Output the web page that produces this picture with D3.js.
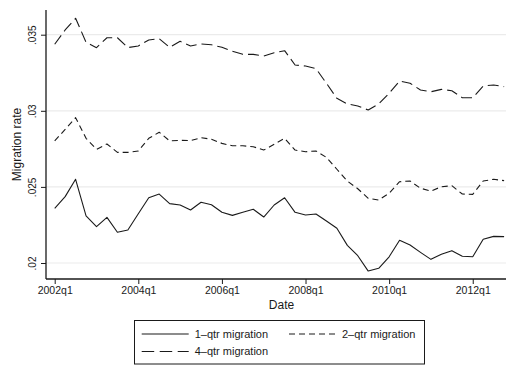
<!DOCTYPE html>
<html>
<head>
<meta charset="utf-8">
<script src="https://cdn.jsdelivr.net/npm/d3@7"></script>
<style>
  html, body { margin: 0; padding: 0; background: #fff; }
  svg { display: block; font-family: "Liberation Sans", Arial, Helvetica, sans-serif; }
</style>
</head>
<body>
<svg id="chart" width="506" height="367"></svg>
<script>
// Quarterly periods, 2002q1 .. 2012q4
const quarters = [
  "2002q1","2002q2","2002q3","2002q4","2003q1","2003q2","2003q3","2003q4",
  "2004q1","2004q2","2004q3","2004q4","2005q1","2005q2","2005q3","2005q4",
  "2006q1","2006q2","2006q3","2006q4","2007q1","2007q2","2007q3","2007q4",
  "2008q1","2008q2","2008q3","2008q4","2009q1","2009q2","2009q3","2009q4",
  "2010q1","2010q2","2010q3","2010q4","2011q1","2011q2","2011q3","2011q4",
  "2012q1","2012q2","2012q3","2012q4"
];

// Migration rates by horizon
const migration1q = [
  0.02359,0.02436,0.02550,0.02309,0.02239,0.02300,0.02202,0.02217,
  0.02324,0.02429,0.02453,0.02390,0.02381,0.02348,0.02399,0.02383,
  0.02333,0.02313,0.02333,0.02353,0.02302,0.02381,0.02429,0.02333,
  0.02315,0.02322,0.02276,0.02228,0.02116,0.02048,0.01947,0.01965,
  0.02041,0.02149,0.02118,0.02070,0.02024,0.02057,0.02081,0.02044,
  0.02041,0.02156,0.02175,0.02173
];
const migration2q = [
  0.02802,0.02878,0.02955,0.02819,0.02747,0.02782,0.02727,0.02727,
  0.02736,0.02819,0.02859,0.02802,0.02806,0.02804,0.02823,0.02813,
  0.02786,0.02770,0.02770,0.02764,0.02742,0.02780,0.02819,0.02742,
  0.02731,0.02736,0.02694,0.02616,0.02538,0.02488,0.02425,0.02414,
  0.02458,0.02534,0.02539,0.02491,0.02473,0.02501,0.02508,0.02453,
  0.02451,0.02539,0.02550,0.02541
];
const migration4q = [
  0.03437,0.03531,0.03608,0.03450,0.03415,0.03480,0.03480,0.03415,
  0.03426,0.03465,0.03474,0.03417,0.03457,0.03426,0.03439,0.03434,
  0.03417,0.03391,0.03371,0.03371,0.03360,0.03382,0.03395,0.03301,
  0.03294,0.03277,0.03181,0.03082,0.03045,0.03032,0.03005,0.03045,
  0.03115,0.03196,0.03181,0.03137,0.03125,0.03141,0.03132,0.03086,
  0.03086,0.03163,0.03170,0.03159
];

const seriesNames = ["1\u2013qtr migration", "2\u2013qtr migration", "4\u2013qtr migration"];
const yTicks = [0.02, 0.025, 0.03, 0.035];
const yTickLabels = [".02", ".025", ".03", ".035"];
const xTickLabels = ["2002q1", "2004q1", "2006q1", "2008q1", "2010q1", "2012q1"];

const svg = d3.select("#chart");
const ink = "#1a1a1a";

// plot region
const plot = { left: 46, right: 506, top: 10, bottom: 279 };

const x = d3.scaleLinear().domain([0, quarters.length - 1]).range([54.7, 504.1]);
const y = d3.scaleLinear().domain([0.02, 0.035]).range([263, 34.7]);

// horizontal grid
svg.append("g").selectAll("line").data(yTicks).join("line")
  .attr("x1", plot.left).attr("x2", plot.right)
  .attr("y1", d => y(d)).attr("y2", d => y(d))
  .attr("stroke", "#ebebeb").attr("stroke-width", 1.2);

// y axis
const yAxis = d3.axisLeft(y).tickValues(yTicks)
  .tickFormat((d, i) => yTickLabels[i]).tickSize(5).tickPadding(0);
const gy = svg.append("g").attr("transform", `translate(${plot.left},0)`).call(yAxis);
gy.select(".domain").remove();
gy.selectAll(".tick line").attr("stroke", ink).attr("stroke-width", 1);
gy.selectAll(".tick text")
  .attr("x", null).attr("dy", null)
  .attr("transform", "translate(-10,0) rotate(-90)")
  .attr("text-anchor", "middle")
  .attr("font-size", "10px").attr("fill", ink)
  .attr("font-family", "Liberation Sans, Arial, sans-serif");
svg.append("line")
  .attr("x1", plot.left).attr("x2", plot.left)
  .attr("y1", plot.top).attr("y2", plot.bottom)
  .attr("stroke", ink).attr("stroke-width", 1.3);

// x axis
const xTickIdx = xTickLabels.map(l => quarters.indexOf(l));
const xAxis = d3.axisBottom(x).tickValues(xTickIdx)
  .tickFormat(d => quarters[d]).tickSize(5).tickPadding(3);
const gx = svg.append("g").attr("transform", `translate(0,${plot.bottom})`).call(xAxis);
gx.select(".domain").remove();
gx.selectAll(".tick line").attr("stroke", ink).attr("stroke-width", 1);
gx.selectAll(".tick text").attr("font-size", "10.5px").attr("fill", ink)
  .attr("font-family", "Liberation Sans, Arial, sans-serif");
svg.append("line")
  .attr("x1", plot.left).attr("x2", plot.right)
  .attr("y1", plot.bottom).attr("y2", plot.bottom)
  .attr("stroke", ink).attr("stroke-width", 1.3);

// axis titles
svg.append("text").attr("x", 281.5).attr("y", 309)
  .attr("text-anchor", "middle").attr("font-size", "12px").attr("fill", ink)
  .text("Date");
svg.append("text")
  .attr("transform", `translate(21,${(plot.top + plot.bottom) / 2}) rotate(-90)`)
  .attr("text-anchor", "middle").attr("font-size", "12px").attr("fill", ink)
  .text("Migration rate");

// series lines
const styles = [
  { data: migration1q, dash: null },
  { data: migration2q, dash: "6,4" },
  { data: migration4q, dash: "11,5" }
];
const line = d3.line().x((d, i) => x(i)).y(d => y(d));
svg.append("g").selectAll("path").data(styles).join("path")
  .attr("d", s => line(s.data))
  .attr("fill", "none").attr("stroke", ink).attr("stroke-width", 1.1)
  .attr("stroke-linejoin", "round")
  .attr("stroke-dasharray", s => s.dash);

// legend
const lg = svg.append("g");
lg.append("rect").attr("x", 134.5).attr("y", 320.5).attr("width", 290).attr("height", 43.5)
  .attr("fill", "#fff").attr("stroke", ink).attr("stroke-width", 1);
const legendItems = [
  { name: seriesNames[0], dash: null, x: 141.7, y: 334 },
  { name: seriesNames[1], dash: "6,4", x: 289, y: 334 },
  { name: seriesNames[2], dash: "12.5,5.5", x: 141.7, y: 351.5 }
];
legendItems.forEach(it => {
  lg.append("line").attr("x1", it.x).attr("x2", it.x + 47)
    .attr("y1", it.y).attr("y2", it.y)
    .attr("stroke", ink).attr("stroke-width", 1.1)
    .attr("stroke-dasharray", it.dash);
  lg.append("text").attr("x", it.x + 53).attr("y", it.y + 3.8)
    .attr("font-size", "11px").attr("fill", ink).text(it.name);
});
</script>
</body>
</html>
